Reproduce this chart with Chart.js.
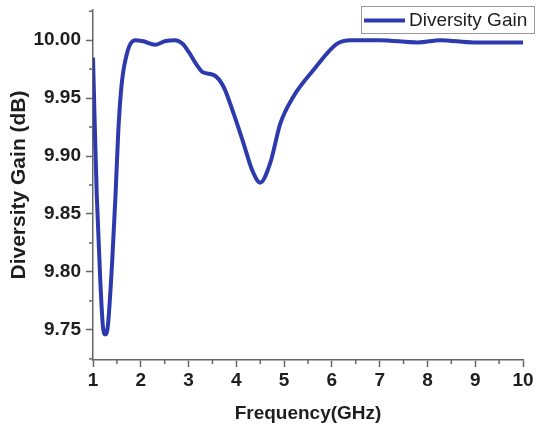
<!DOCTYPE html>
<html>
<head>
<meta charset="utf-8">
<script src="https://cdn.jsdelivr.net/npm/chart.js@4"></script>
<style>
  html, body { margin: 0; padding: 0; background: #fff; }
  #wrap { width: 540px; height: 429px; }
</style>
</head>
<body>
<div id="wrap"><canvas id="gainChart" width="540" height="429"></canvas></div>
<script>
// data
var freq = [1.00, 1.04, 1.08, 1.15, 1.21, 1.26, 1.31, 1.40, 1.47, 1.53, 1.60, 1.72, 1.88, 2.05, 2.30, 2.50, 2.72, 2.87, 3.00, 3.15, 3.31, 3.52, 3.73, 3.94, 4.15, 4.33, 4.50, 4.71, 4.92, 5.19, 5.61, 6.11, 6.40, 7.00, 7.80, 8.27, 8.97, 10.00];
var gain = [9.985, 9.922, 9.865, 9.795, 9.752, 9.746, 9.753, 9.808, 9.865, 9.922, 9.962, 9.990, 10.000, 9.999, 9.996, 9.999, 10.000, 9.997, 9.990, 9.980, 9.972, 9.970, 9.960, 9.937, 9.911, 9.888, 9.877, 9.894, 9.928, 9.951, 9.974, 9.997, 10.000, 10.000, 9.998, 10.000, 9.998, 9.998];
var xTicks = [1, 2, 3, 4, 5, 6, 7, 8, 9, 10];
var yTicks = [9.75, 9.80, 9.85, 9.90, 9.95, 10.00];
var seriesName = 'Diversity Gain';

var lineColor = '#2d3aad';
var axisColor = '#666';
var textColor = '#1e1e1e';
var fontFam = '"Liberation Sans", Arial, sans-serif';

var points = freq.map(function (f, i) { return { x: f, y: gain[i] }; });

// minor ticks halfway between majors + boxed legend
var extras = {
    id: 'extras',
    afterDraw: function (chart) {
        var ctx = chart.ctx;
        var xs = chart.scales.x, ys = chart.scales.y;
        ctx.save();
        ctx.strokeStyle = axisColor;
        ctx.lineWidth = 1.5;
        for (var i = 0; i < xTicks.length - 1; i++) {
            var px = xs.getPixelForValue((xTicks[i] + xTicks[i + 1]) / 2);
            ctx.beginPath();
            ctx.moveTo(px, xs.top);
            ctx.lineTo(px, xs.top + 4);
            ctx.stroke();
        }
        var yMinor = [9.725];
        for (var j = 0; j < yTicks.length; j++) yMinor.push(yTicks[j] + 0.025);
        yMinor.forEach(function (v) {
            if (v < ys.min || v > ys.max) return;
            var py = ys.getPixelForValue(v);
            ctx.beginPath();
            ctx.moveTo(ys.right, py);
            ctx.lineTo(ys.right - 4, py);
            ctx.stroke();
        });

        // legend box
        var bx = 361, by = 6, bw = 173, bh = 27;
        ctx.fillStyle = '#fff';
        ctx.fillRect(bx, by, bw, bh);
        ctx.strokeStyle = '#999';
        ctx.lineWidth = 1;
        ctx.strokeRect(bx + 0.5, by + 0.5, bw, bh);
        ctx.strokeStyle = lineColor;
        ctx.lineWidth = 4;
        ctx.beginPath();
        ctx.moveTo(364, by + bh / 2 + 1);
        ctx.lineTo(405, by + bh / 2 + 1);
        ctx.stroke();
        ctx.fillStyle = textColor;
        ctx.font = '19px ' + fontFam;
        ctx.textBaseline = 'middle';
        ctx.fillText(seriesName, 409, by + bh / 2 + 1);
        ctx.restore();
    }
};

var ctx = document.getElementById('gainChart').getContext('2d');
var gainChart = new Chart(ctx, {
    type: 'line',
    data: {
        datasets: [{
            label: seriesName,
            data: points,
            borderColor: lineColor,
            borderWidth: 4,
            pointRadius: 0,
            fill: false,
            cubicInterpolationMode: 'monotone'
        }]
    },
    options: {
        responsive: false,
        animation: false,
        layout: { padding: { top: 10, right: 17, left: 0, bottom: 0 } },
        plugins: {
            legend: { display: false },
            tooltip: { enabled: false }
        },
        scales: {
            x: {
                type: 'linear',
                min: 1,
                max: 10,
                afterBuildTicks: function (scale) {
                    scale.ticks = xTicks.map(function (v) { return { value: v }; });
                },
                afterFit: function (scale) {
                    scale.height = 69;
                    scale.paddingLeft = 0;
                    scale.paddingRight = 0;
                },
                grid: { drawOnChartArea: false, tickLength: 7, tickColor: axisColor, tickWidth: 1.5 },
                border: { color: axisColor, width: 1.5 },
                ticks: {
                    color: textColor,
                    maxRotation: 0,
                    padding: 2,
                    font: { family: fontFam, size: 19, weight: 'bold' }
                },
                title: {
                    display: true,
                    text: 'Frequency(GHz)',
                    color: textColor,
                    padding: { top: 6 },
                    font: { family: fontFam, size: 19, weight: 'bold' }
                }
            },
            y: {
                min: 9.724,
                max: 10.026,
                afterBuildTicks: function (scale) {
                    scale.ticks = yTicks.map(function (v) { return { value: v }; });
                },
                afterFit: function (scale) {
                    scale.width = 93;
                    scale.paddingTop = 0;
                    scale.paddingBottom = 0;
                },
                grid: { drawOnChartArea: false, tickLength: 7, tickColor: axisColor, tickWidth: 1.5 },
                border: { color: axisColor, width: 1.5 },
                ticks: {
                    color: textColor,
                    padding: 5,
                    font: { family: fontFam, size: 19, weight: 'bold' },
                    callback: function (v) { return Number(v).toFixed(2); }
                },
                title: {
                    display: true,
                    text: 'Diversity Gain (dB)',
                    color: textColor,
                    padding: { top: 7, bottom: 0 },
                    font: { family: fontFam, size: 21, weight: 'bold' }
                }
            }
        }
    },
    plugins: [extras]
});
</script>
</body>
</html>
